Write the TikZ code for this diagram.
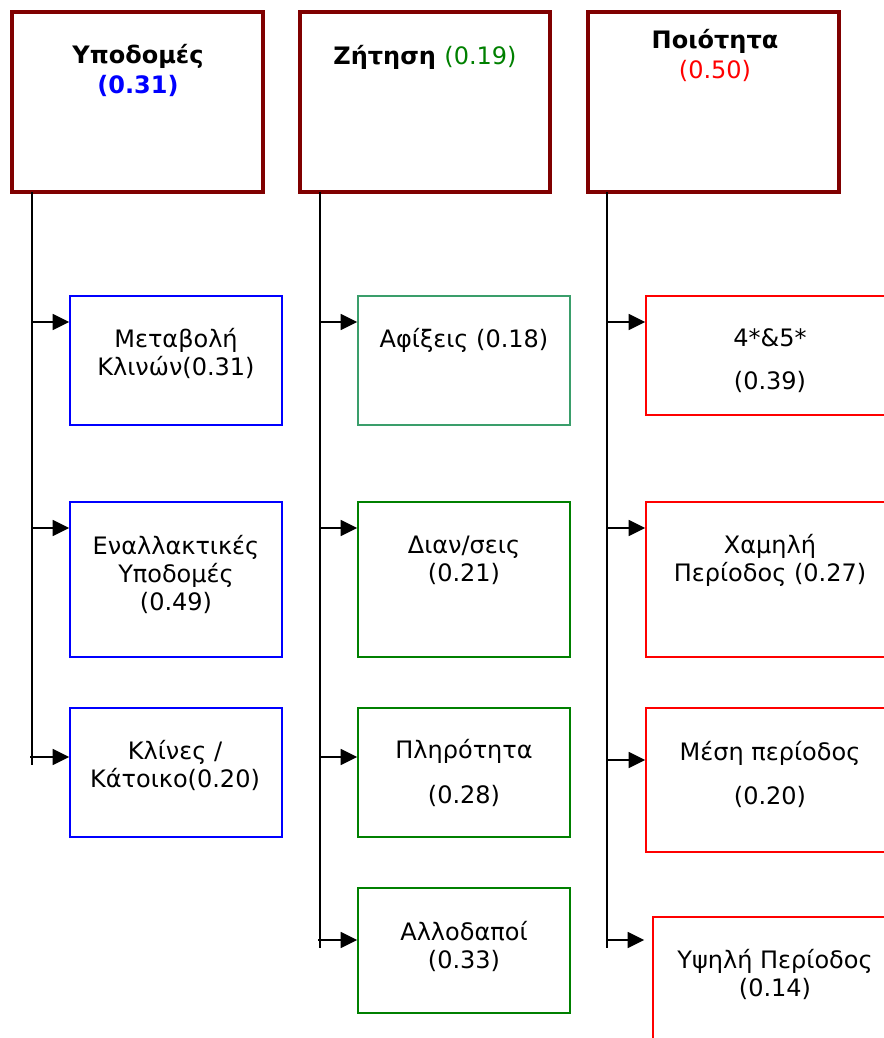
\documentclass[tikz,border=0pt]{standalone}
\usepackage{fontspec}
\setmainfont{DejaVu Sans}
\usetikzlibrary{arrows.meta,fit}
\definecolor{dred}{HTML}{800000}
\definecolor{sgreen}{HTML}{3A9E6B}
\definecolor{dgreen}{HTML}{008000}
\definecolor{pblue}{HTML}{0000FF}
\definecolor{pred}{HTML}{FF0000}
\tikzset{
  topbox/.style={draw=dred, line width=3pt, inner sep=0pt},
  subbox/.style={line width=1.1pt, inner sep=0pt},
  txt/.style={font=\fontsize{18}{21}\selectfont, align=center, inner sep=0pt},
  ttl/.style={font=\fontsize{18}{22.5}\selectfont\bfseries, align=center, inner sep=0pt},
  arr/.style={-{Triangle[length=12.5pt,width=12pt]}, line width=1.25pt},
  ln/.style={line width=1.25pt}
}
\begin{document}
\begin{tikzpicture}[x=0.75pt,y=-0.75pt]
\useasboundingbox (0,0) rectangle (884,1038);
\clip (0,0) rectangle (884,1038);
% top boxes
\node[topbox, fit={(12,12) (263,192)}] (A) {};
\node[topbox, fit={(300,12) (550,192)}] (B) {};
\node[topbox, fit={(588,12) (839,192)}] (C) {};
\node[ttl] (At) at (138,70) {Υποδομές\\\textcolor{pblue}{(0.31)}};
\node[ttl] (Bt) at (425,57) {Ζήτηση \textcolor{dgreen}{\mdseries(0.19)}};
\node[ttl] (Ct) at (715,55) {Ποιότητα\\\textcolor{pred}{\mdseries(0.50)}};
% sub boxes column A
\node[subbox, draw=pblue, fit={(70,296) (282,425)}] (a1) {};
\node[subbox, draw=pblue, fit={(70,502) (282,657)}] (a2) {};
\node[subbox, draw=pblue, fit={(70,708) (282,837)}] (a3) {};
\node[txt] (a1t) at (176,353) {Μεταβολή\\Κλινών(0.31)};
\node[txt] (a2t) at (176,574) {Εναλλακτικές\\Υποδομές\\(0.49)};
\node[txt] (a3t) at (175,765) {Κλίνες /\\Κάτοικο(0.20)};
% column B
\node[subbox, draw=sgreen, fit={(358,296) (570,425)}] (b1) {};
\node[subbox, draw=dgreen, fit={(358,502) (570,657)}] (b2) {};
\node[subbox, draw=dgreen, fit={(358,708) (570,837)}] (b3) {};
\node[subbox, draw=dgreen, fit={(358,888) (570,1013)}] (b4) {};
\node[txt] (b1t) at (464,340) {Αφίξεις (0.18)};
\node[txt] (b2t) at (464,560) {Διαν/σεις\\(0.21)};
\node[txt] (b3t) at (464,773) {Πληρότητα\\[13pt](0.28)};
\node[txt] (b4t) at (464,946) {Αλλοδαποί\\(0.33)};
% column C
\node[subbox, draw=pred, fit={(646,296) (900,415)}] (c1) {};
\node[subbox, draw=pred, fit={(646,502) (900,657)}] (c2) {};
\node[subbox, draw=pred, fit={(646,708) (900,852)}] (c3) {};
\node[subbox, draw=pred, fit={(653,917) (900,1060)}] (c4) {};
\node[txt] (c1t) at (770,361) {4*\&5*\\[11pt](0.39)};
\node[txt] (c2t) at (770,560) {Χαμηλή\\Περίοδος (0.27)};
\node[txt] (c3t) at (770,774) {Μέση περίοδος\\[12pt](0.20)};
\node[txt] (c4t) at (775,974) {Υψηλή Περίοδος\\(0.14)};
% trunk coordinates
\coordinate (As) at (32,192);  \coordinate (Ae) at (32,765);
\coordinate (Bs) at (320,192); \coordinate (Be) at (320,948);
\coordinate (Cs) at (607,192); \coordinate (Ce) at (607,948);
\draw[ln] (As) -- (Ae);
\draw[ln] (Bs) -- (Be);
\draw[ln] (Cs) -- (Ce);
% branch points
\coordinate (pa1) at (32,322); \coordinate (pa2) at (32,528); \coordinate (pa3) at (30,757);
\coordinate (pb1) at (320,322); \coordinate (pb2) at (320,528); \coordinate (pb3) at (320,757); \coordinate (pb4) at (318,940);
\coordinate (pc1) at (607,322); \coordinate (pc2) at (607,528); \coordinate (pc3) at (607,760); \coordinate (pc4) at (607,940);
\draw[arr] (pa1) -- (pa1 -| a1.west);
\draw[arr] (pa2) -- (pa2 -| a2.west);
\draw[arr] (pa3) -- (pa3 -| a3.west);
\draw[arr] (pb1) -- (pb1 -| b1.west);
\draw[arr] (pb2) -- (pb2 -| b2.west);
\draw[arr] (pb3) -- (pb3 -| b3.west);
\draw[arr] (pb4) -- (pb4 -| b4.west);
\draw[arr] (pc1) -- (pc1 -| c1.west);
\draw[arr] (pc2) -- (pc2 -| c2.west);
\draw[arr] (pc3) -- (pc3 -| c3.west);
\draw[arr, shorten >=6pt] (pc4) -- (pc4 -| c4.west);
\end{tikzpicture}
\end{document}
